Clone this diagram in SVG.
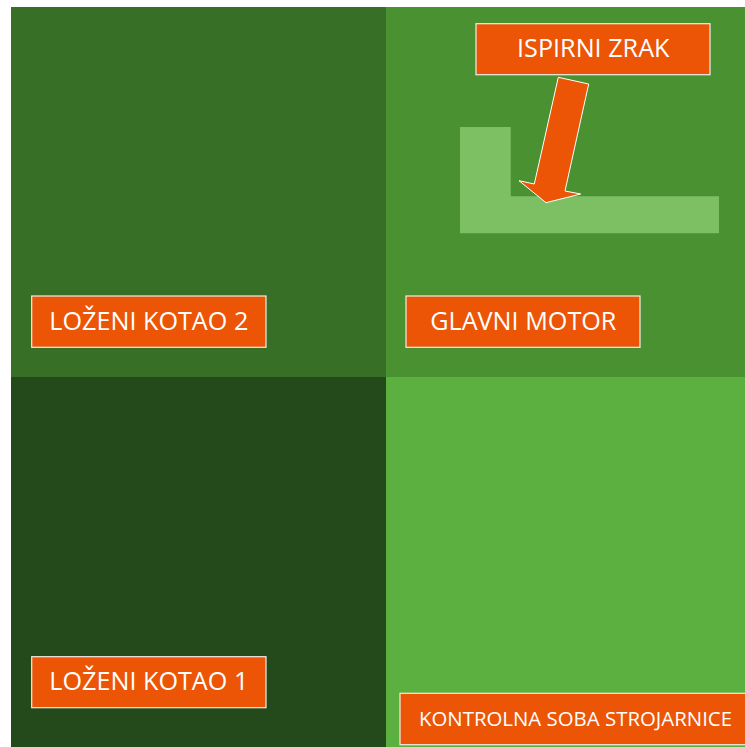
<svg xmlns="http://www.w3.org/2000/svg" width="745" height="747" viewBox="0 0 745 747">
<style>
.lbl{fill:#EB5505;stroke:#F2EDE6;stroke-width:1.2}
.t{fill:#FFFFFF;font-family:"Open Sans","Noto Sans","DejaVu Sans",sans-serif;text-anchor:middle}
</style>
<rect width="745" height="747" fill="#FFFFFF"/>
<g id="quadrants">
<rect x="11" y="7" width="375" height="370" fill="#376F27"/>
<rect x="386" y="7" width="359" height="370" fill="#4A9131"/>
<rect x="11" y="377" width="375" height="370" fill="#244A1B"/>
<rect x="386" y="377" width="359" height="370" fill="#5BB040"/>
</g>
<g id="engine-shape">
<path d="M460,127 H510.7 V196.3 H719 V233.3 H460 Z" fill="#7CC063"/>
</g>
<g id="connectors">
<path d="M558.3,77.3 L588.7,84 L565,191 L580.7,194 L546,202.7 L519,180.7 L534.3,184 Z" fill="#EB5505" stroke="#FFFFFF" stroke-width="1"/>
</g>
<g id="lozeni-kotao-2">
<rect class="lbl" x="31.7" y="296" width="234.3" height="51.3"/>
<text class="t" x="148.8" y="330" font-size="25.2">LOŽENI KOTAO 2</text>
</g>
<g id="lozeni-kotao-1">
<rect class="lbl" x="31.7" y="656.7" width="234.3" height="51"/>
<text class="t" x="148.8" y="690" font-size="25.2">LOŽENI KOTAO 1</text>
</g>
<g id="ispirni-zrak">
<rect class="lbl" x="476" y="23.7" width="234" height="51"/>
<text class="t" x="593.3" y="57" font-size="25.2">ISPIRNI ZRAK</text>
</g>
<g id="glavni-motor">
<rect class="lbl" x="406" y="296" width="234" height="51.3"/>
<text class="t" x="523.3" y="330" font-size="25.2">GLAVNI MOTOR</text>
</g>
<g id="kontrolna-soba">
<rect class="lbl" x="400" y="693.3" width="350" height="51.4"/>
<text class="t" x="575.5" y="726" font-size="20.4">KONTROLNA SOBA STROJARNICE</text>
</g>
</svg>
